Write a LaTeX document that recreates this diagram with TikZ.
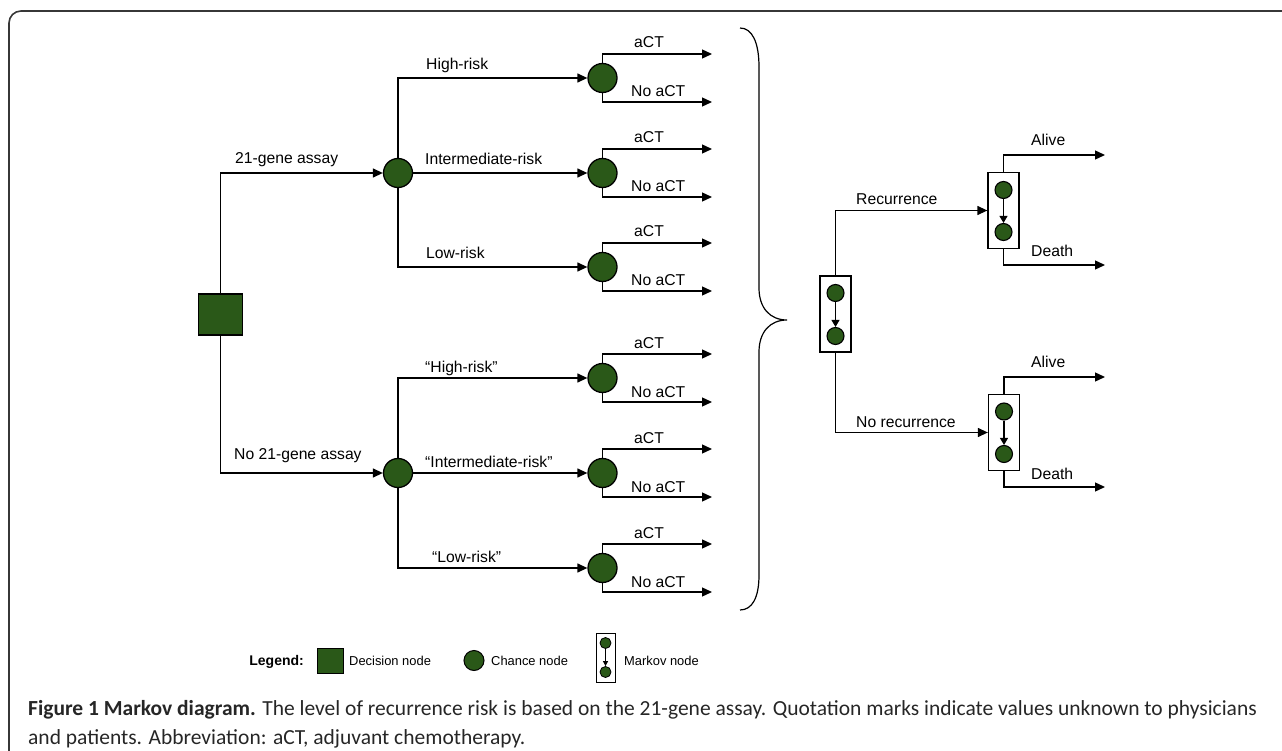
\documentclass[tikz,border=0pt]{standalone}
\usepackage{fontspec}
\setmainfont{Liberation Sans}
\newfontfamily\capfont{Carlito}
\usetikzlibrary{arrows.meta}
\definecolor{nodegreen}{RGB}{42,88,24}
\definecolor{framegray}{RGB}{55,55,55}
\begin{document}
\begin{tikzpicture}[x=1pt,y=-1pt,
  every node/.style={font=\fontsize{15.7}{18}\selectfont},
  ln/.style={line width=1.3pt, draw=black},
  arr/.style={ln, -{Triangle[length=10pt,width=9pt]}},
  chance/.style={circle, draw=black, line width=1.3pt, fill=nodegreen, minimum size=29pt, inner sep=0pt},
  decision/.style={rectangle, draw=black, line width=1.3pt, fill=nodegreen, minimum width=44pt, minimum height=41pt, inner sep=0pt},
  mbox/.style={rectangle, draw=black, line width=1.3pt, fill=white, minimum width=31pt, minimum height=76pt, inner sep=0pt},
  mcirc/.style={circle, draw=black, line width=1.1pt, fill=nodegreen, minimum size=17pt, inner sep=0pt},
  marr/.style={line width=1.1pt, draw=black, -{Triangle[length=7pt,width=8pt]}},
  lbl/.style={anchor=base west, inner sep=0pt},
  leg/.style={anchor=base west, inner sep=0pt, font=\fontsize{12.9}{15}\selectfont},
  capt/.style={anchor=base west, inner sep=0pt, font=\capfont\fontsize{21.5}{26}\selectfont, text=black!85},
]
\useasboundingbox (0,0) rectangle (1282,751);
% frame
\draw[framegray, line width=1.6pt, rounded corners=12pt] (9,752) -- (9,11) -- (1283,11);

% decision tree
\node[decision] (dec) at (220.5,314.5) {};
\node[chance] (c1) at (398,173) {};
\node[chance] (c2) at (398,473) {};
\draw[arr] (dec.north) |- (c1.west);
\draw[arr] (dec.south) |- (c2.west);
\node[lbl] at (235,164) {21-gene assay};
\node[lbl] at (234,459) {No 21-gene assay};

\foreach \n/\y in {c1a/78, c1b/173, c1c/267, c2a/378, c2b/473, c2c/568}{
  \node[chance] (\n) at (602.5,\y) {};
  \coordinate (\n-t) at (712,\y-24);
  \coordinate (\n-b) at (712,\y+24);
  \draw[arr] (\n.north) |- (\n-t);
  \draw[arr] (\n.south) |- (\n-b);
  \node[lbl] at (634,\y-30) {aCT};
  \node[lbl] at (631,\y+19) {No aCT};
}
\draw[arr] (c1.north) |- (c1a.west);
\draw[arr] (c1.east) -- (c1b.west);
\draw[arr] (c1.south) |- (c1c.west);
\draw[arr] (c2.north) |- (c2a.west);
\draw[arr] (c2.east) -- (c2b.west);
\draw[arr] (c2.south) |- (c2c.west);

\node[lbl] at (426,70) {High-risk};
\node[lbl] at (425,165) {Intermediate-risk};
\node[lbl] at (426,259) {Low-risk};
\node[lbl] at (425,372.5) {“High-risk”};
\node[lbl] at (425,467) {“Intermediate-risk”};
\node[lbl] at (432,562) {“Low-risk”};

% brace
\draw[line width=1.2pt] (740,28) .. controls (752,28) and (759,42) .. (759,67)
  -- (759,288) .. controls (759,308) and (770,320) .. (787,320)
  .. controls (770,320) and (759,332) .. (759,352)
  -- (759,575) .. controls (759,598) and (752,610) .. (740,610);

% markov part
\node[mbox] (m0) at (835.5,314) {};
\node[mcirc] (m0a) at (835.5,293) {};
\node[mcirc] (m0b) at (835.5,336) {};
\draw[marr] (m0a) -- (m0b);

\node[mbox] (m1) at (1003.5,210.5) {};
\node[mcirc] (m1a) at (1003.5,190) {};
\node[mcirc] (m1b) at (1003.5,232) {};
\draw[marr] (m1a) -- (m1b);

\node[mbox] (m2) at (1004,432.5) {};
\node[mcirc] (m2a) at (1004,411.5) {};
\node[mcirc] (m2b) at (1004,454) {};
\draw[marr] (m2a) -- (m2b);

\draw[arr] (m0.north) |- (m1.west);
\draw[arr] (m0.south) |- (m2.west);
\node[lbl] at (856,205) {Recurrence};
\node[lbl] at (856,427) {No recurrence};

\coordinate (m1t) at (1105,155);
\coordinate (m1d) at (1105,265);
\coordinate (m2t) at (1105,377);
\coordinate (m2d) at (1105,487);
\draw[arr] (m1.north) |- (m1t);
\draw[arr] (m1.south) |- (m1d);
\draw[arr] (m2.north) |- (m2t);
\draw[arr] (m2.south) |- (m2d);
\node[lbl] at (1031,146) {Alive};
\node[lbl] at (1031,257) {Death};
\node[lbl] at (1031,367) {Alive};
\node[lbl] at (1031,479) {Death};

% legend
\node[anchor=base east, inner sep=0pt, font=\bfseries\fontsize{14}{16}\selectfont] (legt) at (304,665) {Legend:};
\node[rectangle, draw=black, line width=1pt, fill=nodegreen, minimum width=26pt, minimum height=25pt, inner sep=0pt] (ldec) at (330,660.5) {};
\node[leg] (ldect) at (349,665) {Decision node};
\node[circle, draw=black, line width=1pt, fill=nodegreen, minimum size=20pt, inner sep=0pt] (lch) at (474,660.5) {};
\node[leg] (lcht) at (491,665) {Chance node};
\node[rectangle, draw=black, line width=1pt, fill=white, minimum width=19pt, minimum height=49pt, inner sep=0pt] (lmk) at (605.5,657.5) {};
\node[circle, draw=black, line width=0.8pt, fill=nodegreen, minimum size=11pt, inner sep=0pt] (lmka) at (605.5,643) {};
\node[circle, draw=black, line width=0.8pt, fill=nodegreen, minimum size=11pt, inner sep=0pt] (lmkb) at (605.5,672) {};
\draw[line width=0.8pt, -{Triangle[length=5pt,width=5pt]}] (lmka) -- (lmkb);
\node[leg] (lmkt) at (624,665) {Markov node};

% caption
\node[capt] (cap1) at (28,715)
  {\textbf{Figure 1 Markov diagram.} The level of recurrence risk is based on the 21-gene assay. Quotation marks indicate values unknown to physicians};
\node[capt] (cap2) at (28,744)
  {and patients. Abbreviation: aCT, adjuvant chemotherapy.};
\end{tikzpicture}
\end{document}
